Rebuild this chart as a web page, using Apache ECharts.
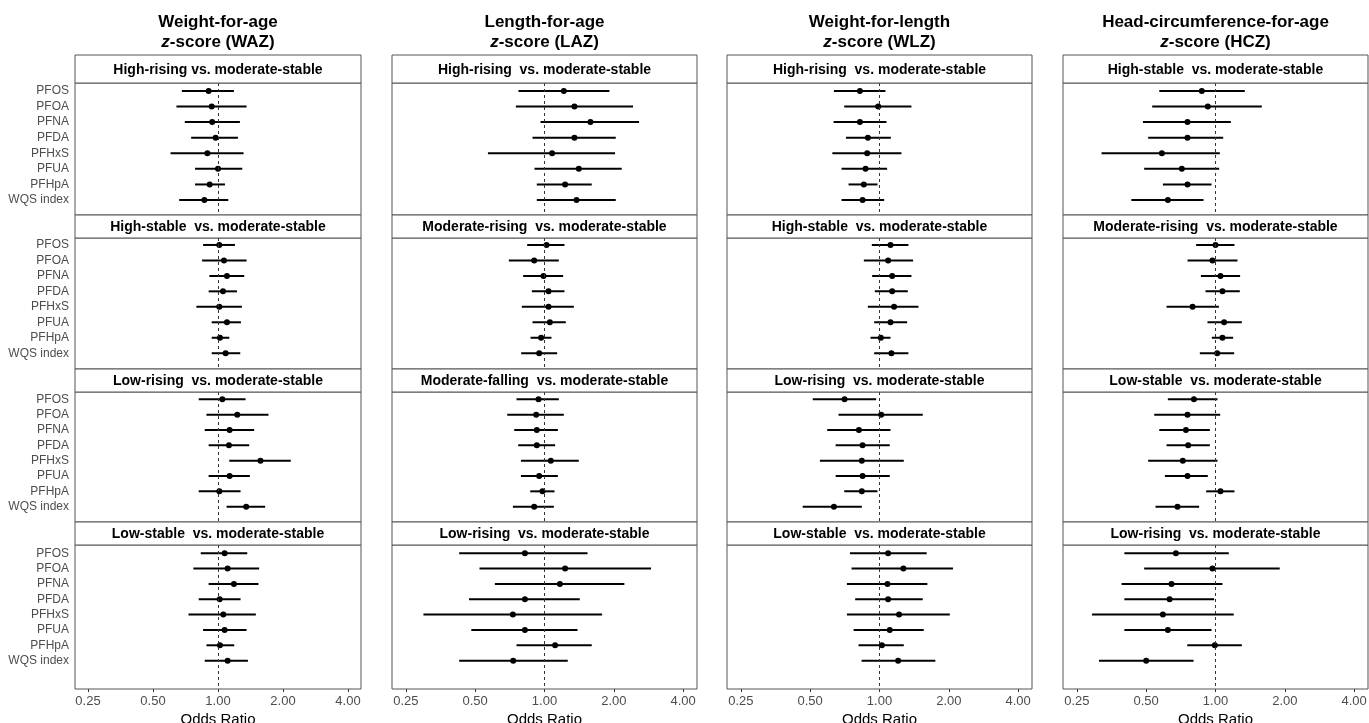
<!DOCTYPE html>
<html><head><meta charset="utf-8">
<script src="https://cdn.jsdelivr.net/npm/echarts@6/dist/echarts.min.js"></script>
<style>html,body{margin:0;padding:0;background:#fff}#c{width:1369px;height:723px}</style>
</head><body><div id="c"></div>
<script>
// ---------- DATA ----------
const exposures = ['PFOS','PFOA','PFNA','PFDA','PFHxS','PFUA','PFHpA','WQS index'];
const xTicks = [0.25, 0.5, 1, 2, 4];
const outcomeNames = ['Weight-for-age', 'Length-for-age', 'Weight-for-length', 'Head-circumference-for-age'];
const outcomeCodes = ['WAZ', 'LAZ', 'WLZ', 'HCZ'];
const stripLabels = [
  ['High-rising vs. moderate-stable', 'High-rising  vs. moderate-stable', 'High-rising  vs. moderate-stable', 'High-stable  vs. moderate-stable'],
  ['High-stable  vs. moderate-stable', 'Moderate-rising  vs. moderate-stable', 'High-stable  vs. moderate-stable', 'Moderate-rising  vs. moderate-stable'],
  ['Low-rising  vs. moderate-stable', 'Moderate-falling  vs. moderate-stable', 'Low-rising  vs. moderate-stable', 'Low-stable  vs. moderate-stable'],
  ['Low-stable  vs. moderate-stable', 'Low-rising  vs. moderate-stable', 'Low-stable  vs. moderate-stable', 'Low-rising  vs. moderate-stable']
];
// each entry: [odds ratio, lower 95% CI, upper 95% CI], in exposure order
const WAZ_highRising   = [[0.905,0.68,1.185],[0.935,0.642,1.356],[0.94,0.702,1.263],[0.975,0.751,1.237],[0.893,0.603,1.313],[1.0,0.783,1.295],[0.915,0.783,1.077],[0.865,0.661,1.116]];
const WAZ_highStable   = [[1.014,0.853,1.198],[1.066,0.844,1.356],[1.1,0.912,1.323],[1.055,0.905,1.224],[1.014,0.794,1.29],[1.1,0.935,1.277],[1.021,0.935,1.128],[1.085,0.935,1.268]];
const WAZ_lowRising    = [[1.047,0.814,1.342],[1.228,0.884,1.713],[1.132,0.868,1.471],[1.124,0.905,1.395],[1.573,1.128,2.172],[1.132,0.905,1.405],[1.014,0.814,1.272],[1.351,1.096,1.653]];
const WAZ_lowStable    = [[1.073,0.832,1.366],[1.108,0.769,1.551],[1.185,0.905,1.54],[1.018,0.814,1.272],[1.058,0.73,1.497],[1.073,0.853,1.356],[1.021,0.884,1.189],[1.108,0.868,1.376]];
const LAZ_highRising   = [[1.213,0.771,1.914],[1.349,0.751,2.425],[1.583,0.961,2.574],[1.349,0.887,2.039],[1.079,0.568,2.025],[1.409,0.905,2.165],[1.229,0.926,1.604],[1.377,0.926,2.039]];
const LAZ_modRising    = [[1.02,0.841,1.221],[0.902,0.7,1.154],[0.99,0.808,1.205],[1.041,0.881,1.221],[1.041,0.797,1.341],[1.055,0.887,1.237],[0.967,0.87,1.072],[0.948,0.792,1.135]];
const LAZ_modFalling   = [[0.942,0.756,1.154],[0.92,0.689,1.213],[0.926,0.739,1.143],[0.926,0.769,1.112],[1.065,0.79,1.409],[0.948,0.79,1.143],[0.98,0.867,1.105],[0.902,0.729,1.098]];
const LAZ_lowRising    = [[0.822,0.426,1.537],[1.229,0.522,2.902],[1.166,0.609,2.223],[0.822,0.47,1.423],[0.729,0.298,1.779],[0.822,0.481,1.391],[1.112,0.756,1.604],[0.731,0.426,1.262]];
const WLZ_highRising   = [[0.822,0.634,1.061],[0.987,0.703,1.376],[0.822,0.632,1.072],[0.89,0.715,1.12],[0.884,0.624,1.245],[0.87,0.684,1.079],[0.855,0.734,0.98],[0.844,0.684,1.048]];
const WLZ_highStable   = [[1.116,0.926,1.335],[1.09,0.855,1.399],[1.135,0.929,1.376],[1.135,0.954,1.327],[1.157,0.89,1.476],[1.116,0.948,1.318],[1.013,0.914,1.116],[1.127,0.948,1.335]];
const WLZ_lowRising    = [[0.705,0.513,0.967],[1.017,0.664,1.541],[0.814,0.593,1.116],[0.844,0.645,1.108],[0.838,0.551,1.275],[0.844,0.645,1.108],[0.838,0.703,0.98],[0.634,0.464,0.838]];
const WLZ_lowStable    = [[1.09,0.744,1.603],[1.27,0.756,2.085],[1.083,0.722,1.614],[1.09,0.784,1.541],[1.216,0.722,2.02],[1.108,0.772,1.556],[1.024,0.811,1.275],[1.205,0.836,1.748]];
const HCZ_highStable   = [[0.872,0.57,1.34],[0.926,0.531,1.589],[0.756,0.484,1.166],[0.756,0.51,1.08],[0.585,0.32,1.044],[0.714,0.49,1.037],[0.756,0.591,0.961],[0.621,0.431,0.887]];
const HCZ_modRising    = [[1.0,0.824,1.209],[0.97,0.756,1.246],[1.051,0.864,1.279],[1.072,0.905,1.275],[0.795,0.613,1.034],[1.09,0.923,1.301],[1.072,0.964,1.193],[1.017,0.855,1.205]];
const HCZ_lowStable    = [[0.806,0.621,1.02],[0.756,0.542,1.048],[0.744,0.57,0.945],[0.761,0.613,0.945],[0.721,0.51,1.02],[0.756,0.603,0.926],[1.051,0.911,1.209],[0.684,0.549,0.849]];
const HCZ_lowRising    = [[0.673,0.402,1.142],[0.97,0.49,1.901],[0.644,0.391,1.072],[0.632,0.402,0.987],[0.591,0.291,1.2],[0.621,0.402,0.961],[0.993,0.754,1.301],[0.5,0.312,0.803]];

// panels[row][col]
const panels = [
  [WAZ_highRising, LAZ_highRising, WLZ_highRising, HCZ_highStable],
  [WAZ_highStable, LAZ_modRising,  WLZ_highStable, HCZ_modRising],
  [WAZ_lowRising,  LAZ_modFalling, WLZ_lowRising,  HCZ_lowStable],
  [WAZ_lowStable,  LAZ_lowRising,  WLZ_lowStable,  HCZ_lowRising]
];

// ---------- LAYOUT ----------
const FONT = "'Liberation Sans', Arial, Helvetica, sans-serif";
const colBounds = [[75,361],[392,697],[727,1032],[1063,1368]];
const stripTop = [55,215,369,522];
const stripBot = [83,238,392,545];
const panelBot = [215,369,522,689];
const yRanges = [[-0.51,7.96],[-0.45,8.02],[-0.48,8.0],[-0.54,8.85]];
const xMin = Math.pow(2,-2.2), xMax = Math.pow(2,2.2);

const grids = [], xAxes = [], yAxes = [], series = [], graphics = [];
let k = 0;
for (let r = 0; r < 4; r++) {
  for (let c = 0; c < 4; c++) {
    const [L, R] = colBounds[c];
    grids.push({
      left: L, top: stripBot[r], width: R - L, height: panelBot[r] - stripBot[r],
      show: true, borderColor: '#555', borderWidth: 1, backgroundColor: '#fff',
      containLabel: false, outerBoundsMode: 'none'
    });
    const bottom = r === 3;
    xAxes.push({
      type: 'log', logBase: 2, gridIndex: k, min: xMin, max: xMax, position: 'bottom',
      axisLine: { show: false, onZero: false },
      splitLine: { show: false },
      minorTick: { show: false },
      axisTick: { show: bottom, length: 3, customValues: xTicks, lineStyle: { color: '#333' } },
      axisLabel: { show: bottom, customValues: xTicks, margin: 6, color: '#4d4d4d', fontSize: 13, fontFamily: FONT,
                   formatter: v => Number(v).toFixed(2) },
      name: bottom ? 'Odds Ratio' : '', nameLocation: 'middle', nameGap: 23,
      nameTextStyle: { color: '#000', fontSize: 15, fontFamily: FONT }
    });
    yAxes.push({
      type: 'value', gridIndex: k, inverse: true, min: yRanges[r][0], max: yRanges[r][1],
      axisLine: { show: false, onZero: false }, splitLine: { show: false }, axisTick: { show: false },
      axisLabel: { show: c === 0, customValues: [0,1,2,3,4,5,6,7], margin: 6, color: '#4d4d4d', fontSize: 12, fontFamily: FONT,
                   formatter: v => exposures[Math.round(v)] || '' }
    });
    const data = panels[r][c].map((d, i) => [i, d[0], d[1], d[2]]);
    series.push({
      type: 'custom', xAxisIndex: k, yAxisIndex: k, silent: true,
      encode: { y: 0, x: [1, 2, 3] },
      data: data,
      renderItem: (params, api) => {
        const y = api.value(0);
        const pE = api.coord([api.value(1), y]);
        const pL = api.coord([api.value(2), y]);
        const pH = api.coord([api.value(3), y]);
        return { type: 'group', children: [
          { type: 'line', shape: { x1: pL[0], y1: pL[1], x2: pH[0], y2: pH[1] }, style: { stroke: '#000', lineWidth: 2 } },
          { type: 'circle', shape: { cx: pE[0], cy: pE[1], r: 3 }, style: { fill: '#000' } }
        ]};
      },
      markLine: { silent: true, symbol: 'none', label: { show: false }, animation: false,
                  lineStyle: { color: '#333', type: [3, 3], width: 1 },
                  data: [{ xAxis: 1 }] },
      z: 3
    });
    // strip
    graphics.push({
      type: 'rect', shape: { x: L, y: stripTop[r], width: R - L, height: stripBot[r] - stripTop[r] },
      style: { fill: '#fff', stroke: '#555', lineWidth: 1 }, z: 10
    });
    graphics.push({
      type: 'text', x: (L + R) / 2, y: (stripTop[r] + stripBot[r]) / 2 + 1, z: 11,
      style: { text: stripLabels[r][c], fill: '#000', font: 'bold 14px ' + FONT, align: 'center', verticalAlign: 'middle' }
    });
    k++;
  }
}
for (let c = 0; c < 4; c++) {
  const [L, R] = colBounds[c];
  graphics.push({
    type: 'text', x: (L + R) / 2, y: 32, z: 11,
    style: {
      text: '{b|' + outcomeNames[c] + '}\n{i|z}{b|-score (' + outcomeCodes[c] + ')}',
      align: 'center', verticalAlign: 'middle', fill: '#000',
      rich: {
        b: { font: 'bold 17px ' + FONT, fill: '#000', lineHeight: 20 },
        i: { font: 'italic bold 17px ' + FONT, fill: '#000', lineHeight: 20 }
      }
    }
  });
}

const chart = echarts.init(document.getElementById('c'), null, { renderer: 'canvas' });
chart.setOption({
  animation: false,
  backgroundColor: '#fff',
  grid: grids, xAxis: xAxes, yAxis: yAxes, series: series,
  graphic: { elements: graphics }
});
</script></body></html>
